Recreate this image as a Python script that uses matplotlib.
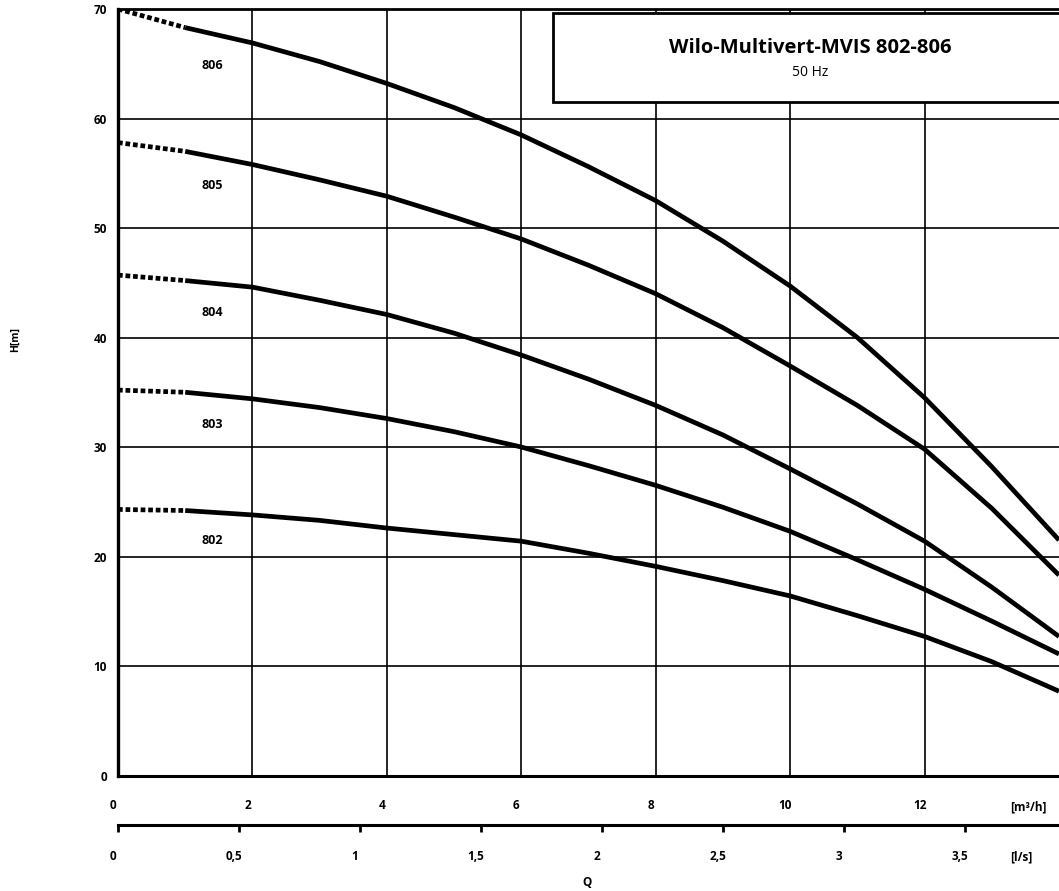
import numpy as np
import matplotlib
matplotlib.use('Agg')
import matplotlib.pyplot as plt
from matplotlib.patches import Rectangle
import matplotlib.transforms as mtransforms

plt.rcParams['font.family'] = ['Open Sans', 'DejaVu Sans']

# flow Q [m3/h] where the curves were read
q = [0, 1, 2, 3, 4, 5, 6, 7, 8, 9, 10, 11, 12, 13, 14]
# head H [m] per pump type
h_806 = [70.0, 68.3, 66.9, 65.2, 63.2, 61.0, 58.5, 55.6, 52.5, 48.8, 44.7, 40.0, 34.5, 28.2, 21.5]
h_805 = [57.8, 57.0, 55.8, 54.4, 52.9, 51.0, 49.0, 46.6, 44.0, 40.9, 37.4, 33.8, 29.8, 24.4, 18.3]
h_804 = [45.7, 45.2, 44.6, 43.4, 42.1, 40.4, 38.4, 36.2, 33.8, 31.1, 28.0, 24.8, 21.4, 17.2, 12.7]
h_803 = [35.2, 35.0, 34.4, 33.6, 32.6, 31.4, 30.0, 28.3, 26.5, 24.5, 22.3, 19.7, 17.0, 14.1, 11.1]
h_802 = [24.3, 24.2, 23.8, 23.3, 22.6, 22.0, 21.4, 20.3, 19.1, 17.8, 16.4, 14.6, 12.7, 10.4, 7.7]
curves = {'806': h_806, '805': h_805, '804': h_804, '803': h_803, '802': h_802}

q_ticks = [0, 2, 4, 6, 8, 10, 12]
ls_ticks = [0, 0.5, 1, 1.5, 2, 2.5, 3, 3.5]
ls_labels = ['0', '0,5', '1', '1,5', '2', '2,5', '3', '3,5']
h_ticks = [0, 10, 20, 30, 40, 50, 60, 70]

fig = plt.figure(figsize=(10.59, 8.91), dpi=100)
ax = fig.add_axes([0.1114, 0.1296, 0.8886, 0.8603])
ax.set_xlim(0, 14)
ax.set_ylim(0, 70)

label_y = [64.8, 53.9, 42.3, 32.1, 21.5]
n_dot = 2  # first two points (Q 0..1) drawn dotted
for (name, h), ly in zip(curves.items(), label_y):
    ax.plot(q[:n_dot], h[:n_dot], color='black', lw=3.4,
            linestyle=(0, (1, 0.6)), dash_capstyle='butt', zorder=3)
    ax.plot(q[n_dot - 1:], h[n_dot - 1:], color='black', lw=3.4,
            solid_capstyle='butt', solid_joinstyle='round', zorder=3)
    ax.text(1.4, ly, name, fontsize=9, fontweight='bold',
            ha='center', va='center')

ax.set_xticks(q_ticks)
ax.set_yticks(h_ticks)
ax.grid(True, color='black', lw=1.2)
ax.set_axisbelow(True)
ax.tick_params(axis='both', length=0, labelsize=8.5)
ax.tick_params(axis='x', pad=17)
ax.tick_params(axis='y', pad=8)
for lab in ax.get_xticklabels() + ax.get_yticklabels():
    lab.set_fontweight('bold')
shift = mtransforms.ScaledTranslation(-5 / 100, 0, fig.dpi_scale_trans)
for lab in ax.get_xticklabels():
    lab.set_transform(lab.get_transform() + shift)

ax.spines['right'].set_visible(False)
ax.spines['left'].set_linewidth(2.4)
ax.spines['bottom'].set_linewidth(2.2)
ax.spines['top'].set_linewidth(2.0)

# second flow scale in l/s
sec = ax.secondary_xaxis(-0.0646, functions=(lambda x: x / 3.6, lambda x: x * 3.6))
sec.set_xticks(ls_ticks)
sec.set_xticklabels(ls_labels)
sec.tick_params(direction='out', length=5, width=2, labelsize=8.5, pad=13)
for lab in sec.get_xticklabels():
    lab.set_fontweight('bold')
    lab.set_transform(lab.get_transform() + shift)
sec.spines['bottom'].set_linewidth(2.2)

fig.text(1028 / 1059, 1 - 807 / 891, '[m³/h]', fontsize=8.5, fontweight='bold',
         ha='center', va='center')
fig.text(1021 / 1059, 1 - 857 / 891, '[l/s]', fontsize=8.5, fontweight='bold',
         ha='center', va='center')
fig.text(587 / 1059, 1 - 883 / 891, 'Q', fontsize=8.5, fontweight='bold',
         ha='center', va='center')
fig.text(15 / 1059, 1 - 340 / 891, 'H[m]', fontsize=7.5, fontweight='bold',
         ha='center', va='center', rotation=90)

# title box
ax.add_patch(Rectangle((6.47, 61.5), 8.0, 8.1, facecolor='white',
                       edgecolor='black', lw=2.0, zorder=4))
ax.text(10.3, 66.4, 'Wilo-Multivert-MVIS 802-806', fontsize=14.5,
        fontweight='bold', ha='center', va='center', zorder=5)
ax.text(10.3, 64.2, '50 Hz', fontsize=10, ha='center', va='center', zorder=5)

fig.savefig('out.png', dpi=100)
